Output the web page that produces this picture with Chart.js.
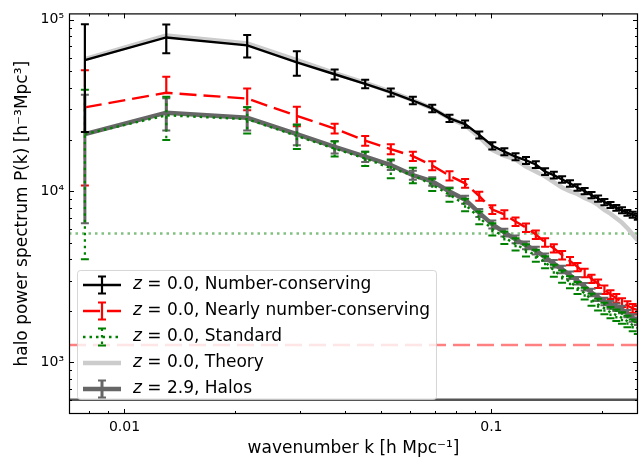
<!DOCTYPE html>
<html>
<head>
<meta charset="utf-8">
<script src="https://cdn.jsdelivr.net/npm/chart.js@4.4.0/dist/chart.umd.min.js"></script>
<style>
  html, body { margin: 0; padding: 0; background: #fff; }
  #wrap { width: 644px; height: 461px; }
</style>
</head>
<body>
<div id="wrap"><canvas id="myChart" width="644" height="461"></canvas></div>
<script>
// wavenumber bins [h/Mpc]
const kValues = [0.0078, 0.0130, 0.0216, 0.0295, 0.0374, 0.0453, 0.0532, 0.0611, 0.0690, 0.0769,
  0.0848, 0.0927, 0.1006, 0.1085, 0.1164, 0.1243, 0.1322, 0.1401, 0.1480, 0.1559,
  0.1638, 0.1717, 0.1796, 0.1875, 0.1954, 0.2033, 0.2112, 0.2191, 0.2270, 0.2349,
  0.2428, 0.2507];

// z = 0.0, number-conserving
const pkNumCons = [58100, 78900, 70900, 56400, 48100, 42300, 37700, 33800, 30400, 26600,
  24600, 21300, 18400, 17000, 15900, 15100, 14300, 13000, 12400, 11700,
  11100, 10500, 10000, 9480, 9050, 8640, 8310, 7990, 7730, 7470, 7280, 7090];
const errNumCons = [36000, 15000, 10600, 9200, 3200, 2400, 2000, 1700, 1500, 1300,
  1200, 1000, 900, 800, 750, 700, 650, 600, 560, 520,
  480, 450, 420, 400, 380, 360, 340, 320, 310, 300, 290, 280];

// z = 0.0, nearly number-conserving
const pkNearly = [30800, 37500, 34700, 27500, 23200, 19700, 17600, 16000, 14100, 12300,
  11100, 9350, 7810, 7310, 6640, 6130, 5580, 5020, 4640, 4230,
  3910, 3610, 3330, 3080, 2880, 2660, 2490, 2370, 2240, 2150, 2070, 2020];
const errNearly = [20000, 9000, 5000, 3600, 1500, 1300, 1200, 1000, 850, 750,
  650, 550, 450, 420, 380, 350, 320, 290, 260, 240,
  220, 200, 190, 175, 165, 155, 145, 140, 130, 125, 120, 118];

// z = 0.0, standard
const pkStandard = [21500, 27700, 26300, 21000, 17700, 15500, 13600, 12400, 10900, 9530,
  8340, 7000, 6000, 5370, 4900, 4520, 4210, 3860, 3440, 3180,
  2950, 2730, 2530, 2330, 2180, 2070, 1960, 1890, 1820, 1740, 1650, 1590];
const errStandard = [17500, 7800, 4600, 3400, 1800, 1500, 1700, 1300, 900, 850,
  700, 600, 500, 450, 400, 370, 340, 310, 280, 260,
  240, 220, 200, 185, 170, 160, 150, 145, 140, 135, 130, 125];

// z = 0.0, theory
const pkTheory = [58900, 80900, 72800, 58100, 48900, 42900, 38000, 34000, 30400, 26600,
  24300, 20700, 17400, 16100, 15300, 13900, 13000, 12200, 11300, 10500,
  10000, 9620, 9120, 8770, 8310, 7780, 7380, 6950, 6550, 6080, 5580, 5150];

// z = 2.9, halos
const pkHalos = [21500, 28700, 26800, 21500, 18100, 15900, 14200, 12400, 11400, 9950,
  8910, 7470, 6400, 5740, 5230, 4830, 4500, 4120, 3770, 3490,
  3230, 3000, 2770, 2560, 2400, 2270, 2170, 2100, 2040, 1930, 1820, 1740];
const errHalos = [15000, 6100, 4200, 3000, 1500, 1100, 900, 750, 650, 550,
  480, 400, 340, 300, 270, 250, 230, 210, 190, 175,
  160, 150, 140, 130, 120, 115, 110, 105, 100, 95, 90, 88];

// shot-noise levels: halos, nearly, standard
const shotNoise = [606, 1265, 5660];

const xRange = [0.00706, 0.251];
const yRange = [500, 109000];
const xTickValues = [0.01, 0.1];
const xTickLabels = ['0.01', '0.1'];
const yTickValues = [1000, 10000, 100000];
const yTickLabels = ['10³', '10⁴', '10⁵'];
const xMinorTicks = [0.008, 0.009, 0.02, 0.03, 0.04, 0.05, 0.06, 0.07, 0.08, 0.09, 0.2];
const yMinorTicks = [600, 700, 800, 900, 2000, 3000, 4000, 5000, 6000, 7000, 8000, 9000,
  20000, 30000, 40000, 50000, 60000, 70000, 80000, 90000];

const legendRedshift = ['0.0', '0.0', '0.0', '0.0', '2.9'];
const legendNames = ['Number-conserving', 'Nearly number-conserving', 'Standard', 'Theory', 'Halos'];

const FONT = '"DejaVu Sans", sans-serif';
const DASHED = [17, 7];
const DOTTED = [2.5, 4];
const pts = (ys) => ys.map((v, i) => ({x: kValues[i], y: v}));
const hline = (v) => [{x: xRange[0], y: v}, {x: xRange[1], y: v}];

const styles = [
  {color: '#000000', width: 2.4, dash: [], bar: 2.2, cap: 4},
  {color: '#ff0000', width: 2.4, dash: DASHED, bar: 2.2, cap: 4},
  {color: '#008000', width: 2.4, dash: DOTTED, bar: 2.2, cap: 4},
  {color: '#cccccc', width: 4.5, dash: [], bar: 0, cap: 0},
  {color: '#666666', width: 4.5, dash: [], bar: 3, cap: 4}
];

const datasets = [
  {label: 'num', data: pts(pkNumCons), errs: errNumCons, st: styles[0], order: 0},
  {label: 'std', data: pts(pkStandard), errs: errStandard, st: styles[2], order: 1},
  {label: 'halos', data: pts(pkHalos), errs: errHalos, st: styles[4], order: 2},
  {label: 'nearly', data: pts(pkNearly), errs: errNearly, st: styles[1], order: 3},
  {label: 'theory', data: pts(pkTheory), st: styles[3], order: 4},
  {label: 'sn halos', data: hline(shotNoise[0]), st: {color: '#555555', width: 2.4, dash: []}, order: 5},
  {label: 'sn nearly', data: hline(shotNoise[1]), st: {color: '#ff8080', width: 2.4, dash: DASHED}, order: 5},
  {label: 'sn std', data: hline(shotNoise[2]), st: {color: '#80c080', width: 2.4, dash: DOTTED}, order: 5}
].map(d => Object.assign(d, {
  borderColor: d.st.color,
  borderWidth: d.st.width,
  borderDash: d.st.dash,
  pointRadius: 0,
  fill: false,
  tension: 0
}));

// error bars drawn through the scales
const errorBars = {
  id: 'errorBars',
  afterDatasetDraw(chart, args) {
    const ds = chart.data.datasets[args.index];
    if (!ds.errs || !ds.st.bar) return;
    const {ctx, chartArea: a, scales: {x, y}} = chart;
    ctx.save();
    ctx.beginPath();
    ctx.rect(a.left, a.top, a.width, a.height);
    ctx.clip();
    ctx.strokeStyle = ds.st.color;
    ds.data.forEach((p, i) => {
      const px = x.getPixelForValue(p.x);
      const lo = Math.max(p.y - ds.errs[i], yRange[0] * 0.5);
      const yt = y.getPixelForValue(p.y + ds.errs[i]);
      const yb = y.getPixelForValue(lo);
      ctx.lineWidth = ds.st.bar;
      ctx.setLineDash(ds.st.dash);
      ctx.beginPath(); ctx.moveTo(px, yt); ctx.lineTo(px, yb); ctx.stroke();
      ctx.setLineDash([]);
      ctx.lineWidth = 2;
      ctx.beginPath();
      ctx.moveTo(px - ds.st.cap, yt); ctx.lineTo(px + ds.st.cap, yt);
      ctx.moveTo(px - ds.st.cap, yb); ctx.lineTo(px + ds.st.cap, yb);
      ctx.stroke();
    });
    ctx.restore();
  }
};

// frame with inward ticks on every side
const frameTicks = {
  id: 'frameTicks',
  afterDatasetsDraw(chart) {
    const {ctx, chartArea: a, scales: {x, y}} = chart;
    ctx.save();
    ctx.strokeStyle = '#000';
    ctx.lineWidth = 1;
    const seg = (x0, y0, x1, y1) => { ctx.beginPath(); ctx.moveTo(x0, y0); ctx.lineTo(x1, y1); ctx.stroke(); };
    const xt = (vals, len) => vals.forEach(v => {
      const p = Math.round(x.getPixelForValue(v)) + 0.5;
      seg(p, a.bottom, p, a.bottom - len); seg(p, a.top, p, a.top + len);
    });
    const yt = (vals, len) => vals.forEach(v => {
      const p = Math.round(y.getPixelForValue(v)) + 0.5;
      seg(a.left, p, a.left + len, p); seg(a.right, p, a.right - len, p);
    });
    xt(xTickValues, 5); xt(xMinorTicks, 3);
    yt(yTickValues, 5); yt(yMinorTicks, 3);
    ctx.lineWidth = 1.2;
    ctx.strokeRect(a.left + 0.5, a.top + 0.5, a.width - 1, a.height - 1);
    ctx.restore();
  }
};

// matplotlib-like legend with error bar handles
const mplLegend = {
  id: 'mplLegend',
  afterDraw(chart) {
    const {ctx} = chart;
    const box = {x: 77, y: 270, w: 359, h: 129};
    ctx.save();
    ctx.fillStyle = 'rgba(255,255,255,0.8)';
    ctx.strokeStyle = 'rgba(204,204,204,0.8)';
    ctx.lineWidth = 1;
    ctx.beginPath();
    ctx.roundRect(box.x + 0.5, box.y + 0.5, box.w, box.h, 3);
    ctx.fill();
    ctx.stroke();
    const rows = [285, 311, 337, 363, 389];
    rows.forEach((cy, r) => {
      const st = styles[r];
      ctx.strokeStyle = st.color;
      ctx.lineWidth = st.width;
      ctx.setLineDash(st.dash);
      ctx.beginPath(); ctx.moveTo(83, cy); ctx.lineTo(121, cy); ctx.stroke();
      if (st.bar) {
        ctx.lineWidth = st.bar;
        ctx.beginPath(); ctx.moveTo(102, cy - 8.5); ctx.lineTo(102, cy + 8.5); ctx.stroke();
        ctx.setLineDash([]);
        ctx.lineWidth = 2;
        ctx.beginPath();
        ctx.moveTo(102 - st.cap, cy - 8.5); ctx.lineTo(102 + st.cap, cy - 8.5);
        ctx.moveTo(102 - st.cap, cy + 8.5); ctx.lineTo(102 + st.cap, cy + 8.5);
        ctx.stroke();
      }
      ctx.setLineDash([]);
      ctx.fillStyle = '#000';
      ctx.textBaseline = 'middle';
      ctx.font = 'italic 17px ' + FONT;
      ctx.fillText('z', 133, cy);
      const w = ctx.measureText('z').width;
      ctx.font = '17px ' + FONT;
      ctx.fillText(' = ' + legendRedshift[r] + ', ' + legendNames[r], 133 + w, cy);
    });
    ctx.restore();
  }
};

new Chart(document.getElementById('myChart'), {
  type: 'line',
  data: {datasets: datasets},
  plugins: [errorBars, frameTicks, mplLegend],
  options: {
    responsive: false,
    animation: false,
    devicePixelRatio: 1,
    layout: {padding: {top: 7, right: 6, left: 0, bottom: 0}},
    plugins: {legend: {display: false}, tooltip: {enabled: false}},
    scales: {
      x: {
        type: 'logarithmic',
        min: xRange[0],
        max: xRange[1],
        afterBuildTicks: (s) => { s.ticks = xTickValues.map(v => ({value: v})); },
        afterFit: (s) => { s.height = 47; },
        grid: {display: false, drawTicks: false},
        border: {display: false},
        ticks: {
          autoSkip: false, maxRotation: 0, padding: 5, color: '#000',
          font: {family: FONT, size: 14},
          callback: (v, i) => xTickLabels[i]
        },
        title: {
          display: true, text: 'wavenumber k [h Mpc⁻¹]', color: '#000',
          font: {family: FONT, size: 17}, padding: {top: 0, bottom: 2}
        }
      },
      y: {
        type: 'logarithmic',
        min: yRange[0],
        max: yRange[1],
        afterBuildTicks: (s) => { s.ticks = yTickValues.map(v => ({value: v})); },
        afterFit: (s) => { s.width = 69; },
        grid: {display: false, drawTicks: false},
        border: {display: false},
        ticks: {
          autoSkip: false, padding: 5, color: '#000',
          font: {family: FONT, size: 14},
          callback: (v, i) => yTickLabels[i]
        },
        title: {
          display: true, text: 'halo power spectrum P(k) [h⁻³Mpc³]', color: '#000',
          font: {family: FONT, size: 17}, padding: {top: 12, bottom: 0}
        }
      }
    }
  }
});
</script>
</body>
</html>
